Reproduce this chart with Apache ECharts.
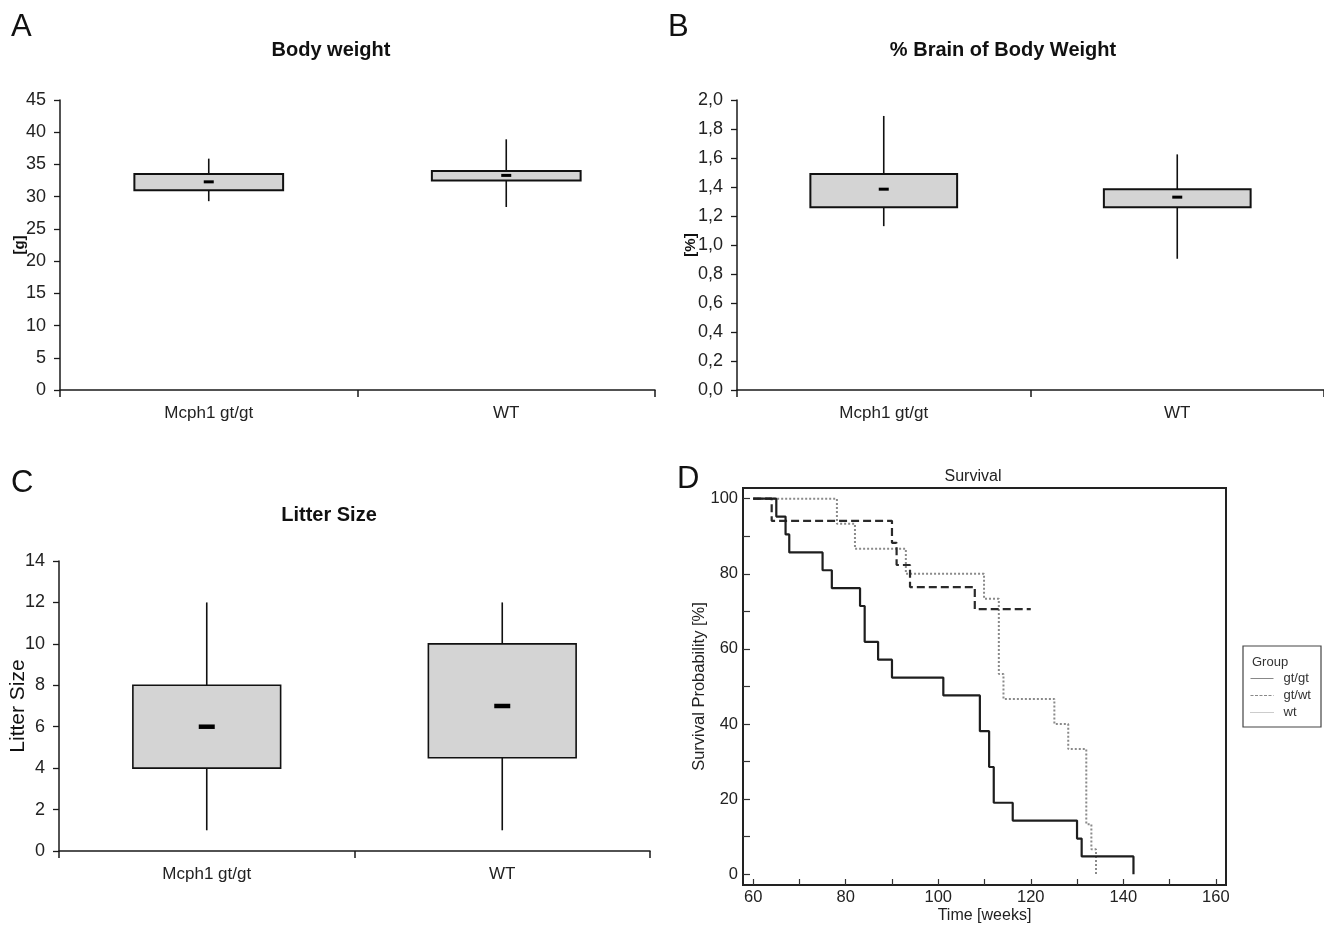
<!DOCTYPE html>
<html>
<head>
<meta charset="utf-8">
<script src="https://cdn.jsdelivr.net/npm/echarts@6/dist/echarts.min.js"></script>
<style>
  html, body { margin: 0; padding: 0; background: #fff; }
  #chart { width: 1324px; height: 925px; }
</style>
</head>
<body>
<div id="chart"></div>
<script>
const FONT = '"Liberation Sans", Arial, sans-serif';

// box panels: [min, q1, median, q3, max] per group
const groups = ['Mcph1 gt/gt', 'WT'];
const weightStats = [[29.3, 31.0, 32.3, 33.5, 35.9], [28.4, 32.5, 33.3, 34.0, 38.9]];
const brainStats = [[1.13, 1.26, 1.385, 1.49, 1.89], [0.905, 1.26, 1.33, 1.385, 1.625]];
const litterStats = [[1, 4, 6, 8, 12], [1, 4.5, 7, 10, 12]];

// survival (Kaplan-Meier steps): time [weeks], survival [%]
const gtgtTimes = [60, 65.0, 67.0, 67.8, 75.0, 77.0, 83.1, 84.1, 87.0, 90.0, 101.1, 109.0, 111.0, 112.0, 116.1, 130.0, 131.0, 142.2];
const gtgtSurv = [100, 95.24, 90.48, 85.71, 80.95, 76.19, 71.43, 61.9, 57.14, 52.38, 47.62, 38.1, 28.57, 19.05, 14.29, 9.52, 4.76, 0];
const gtwtTimes = [60, 64.0, 90.0, 91.0, 93.9, 107.9, 120.0];
const gtwtSurv = [100, 94.12, 88.24, 82.35, 76.47, 70.59, 70.59];
const wtTimes = [60, 78.1, 82.0, 93.0, 109.9, 113.1, 114.1, 125.1, 128.1, 132.0, 133.1, 134.1];
const wtSurv = [100, 93.33, 86.67, 80, 73.33, 53.33, 46.67, 40, 33.33, 13.33, 6.67, 0];

const timeTicks = [60, 70, 80, 90, 100, 110, 120, 130, 140, 150, 160];
const timeLabels = [60, 80, 100, 120, 140, 160];
const survTicks = [0, 10, 20, 30, 40, 50, 60, 70, 80, 90, 100];
const survLabels = [0, 20, 40, 60, 80, 100];

const zip = (a, b) => a.map((v, i) => [v, b[i]]);
const boxData = stats => stats.map((s, i) => [i].concat(s));

function boxRenderer(dashW, dashH, lw) {
  return function (params, api) {
    const ci = api.value(0);
    const hi = api.coord([ci, api.value(5)]);
    const lo = api.coord([ci, api.value(1)]);
    const q3 = api.coord([ci, api.value(4)]);
    const q1 = api.coord([ci, api.value(2)]);
    const md = api.coord([ci, api.value(3)]);
    const bw = api.size([1, 0])[0] * 0.5;
    return {
      type: 'group',
      children: [
        { type: 'line', shape: { x1: hi[0], y1: hi[1], x2: lo[0], y2: lo[1] }, style: { stroke: '#111', lineWidth: 1.6 } },
        { type: 'rect', shape: { x: q3[0] - bw / 2, y: q3[1], width: bw, height: q1[1] - q3[1] }, style: { fill: '#d4d4d4', stroke: '#111', lineWidth: lw } },
        { type: 'rect', shape: { x: md[0] - dashW / 2, y: md[1] - dashH / 2, width: dashW, height: dashH }, style: { fill: '#000' } }
      ]
    };
  };
}

const axisLine = { lineStyle: { color: '#1a1a1a', width: 1.5 } };
const labelStyle = { fontSize: 18, color: '#222', fontFamily: FONT };
const survLabelStyle = { fontSize: 16.5, color: '#222', fontFamily: FONT };
const noLegendSymbol = { color: 'transparent', borderWidth: 0, opacity: 0 };

function catAxis(gi) {
  return {
    type: 'category', gridIndex: gi, data: groups, boundaryGap: true,
    axisLine: axisLine,
    axisTick: { show: true, length: 7, lineStyle: { color: '#1a1a1a', width: 1.5 } },
    axisLabel: Object.assign({ margin: 15 }, labelStyle, { fontSize: 17 }),
    splitLine: { show: false }
  };
}
function boxYAxis(gi, min, max, interval, extra) {
  return Object.assign({
    type: 'value', gridIndex: gi, min: min, max: max, interval: interval,
    axisLine: Object.assign({ show: true }, axisLine),
    axisTick: { show: true, length: 6, lineStyle: { color: '#1a1a1a', width: 1.3 } },
    axisLabel: Object.assign({ margin: 14 }, labelStyle),
    splitLine: { show: false },
    nameLocation: 'middle', nameRotate: 90, nameMoveOverlap: false
  }, extra);
}

const chart = echarts.init(document.getElementById('chart'));
const option = {
  animation: false,
  backgroundColor: '#fff',
  textStyle: { fontFamily: FONT },
  graphic: [
    { type: 'text', left: 11, top: 12, style: { text: 'A', fontSize: 31, fill: '#111', fontFamily: FONT } },
    { type: 'text', left: 668, top: 12, style: { text: 'B', fontSize: 31, fill: '#111', fontFamily: FONT } },
    { type: 'text', left: 11, top: 468, style: { text: 'C', fontSize: 31, fill: '#111', fontFamily: FONT } },
    { type: 'text', left: 677, top: 464, style: { text: 'D', fontSize: 31, fill: '#111', fontFamily: FONT } },
    { type: 'text', x: 331, y: 50, style: { text: 'Body weight', fontSize: 20, fontWeight: 'bold', fill: '#111', align: 'center', verticalAlign: 'middle', fontFamily: FONT } },
    { type: 'text', x: 1003, y: 50, style: { text: '% Brain of Body Weight', fontSize: 20, fontWeight: 'bold', fill: '#111', align: 'center', verticalAlign: 'middle', fontFamily: FONT } },
    { type: 'text', x: 329, y: 515, style: { text: 'Litter Size', fontSize: 20, fontWeight: 'bold', fill: '#111', align: 'center', verticalAlign: 'middle', fontFamily: FONT } },
    { type: 'text', x: 973, y: 477, style: { text: 'Survival', fontSize: 16, fill: '#222', align: 'center', verticalAlign: 'middle', fontFamily: FONT } },
    { type: 'rect', shape: { x: 1243, y: 646, width: 78, height: 81 }, style: { fill: 'none', stroke: '#444', lineWidth: 1.2 } },
    { type: 'text', x: 1252, y: 662, style: { text: 'Group', fontSize: 13, fill: '#333', verticalAlign: 'middle', fontFamily: FONT } }
  ],
  legend: {
    orient: 'vertical', left: 1250, top: 672, padding: 0,
    itemWidth: 23, itemHeight: 12, itemGap: 4,
    textStyle: { fontSize: 13, color: '#333', fontFamily: FONT, padding: [0, 0, 0, 5] },
    data: [
      { name: 'gt/gt', lineStyle: { color: '#888', width: 1 }, itemStyle: noLegendSymbol },
      { name: 'gt/wt', lineStyle: { color: '#888', width: 1, type: [3, 1.5] }, itemStyle: noLegendSymbol },
      { name: 'wt', lineStyle: { color: '#999', width: 1, type: [1, 1] }, itemStyle: noLegendSymbol }
    ]
  },
  grid: [
    { left: 60, top: 100, width: 595, height: 290 },
    { left: 737, top: 100, width: 589, height: 290 },
    { left: 59, top: 561, width: 591, height: 290 },
    { left: 743, top: 488, width: 483, height: 397, show: true, borderColor: '#222', borderWidth: 2 }
  ],
  xAxis: [
    catAxis(0), catAxis(1), catAxis(2),
    {
      type: 'value', gridIndex: 3, min: 57.8, max: 162.2,
      axisLine: { onZero: false, lineStyle: { color: '#222', width: 2 } },
      axisTick: { show: true, inside: true, length: 6, customValues: timeTicks, lineStyle: { color: '#333', width: 1.2 } },
      axisLabel: Object.assign({ margin: 4, customValues: timeLabels }, survLabelStyle),
      splitLine: { show: false },
      name: 'Time [weeks]', nameLocation: 'middle', nameGap: 23, nameMoveOverlap: false,
      nameTextStyle: { fontSize: 16, color: '#222', fontFamily: FONT }
    }
  ],
  yAxis: [
    boxYAxis(0, 0, 45, 5, { name: '[g]', nameGap: 33, nameTextStyle: { fontSize: 15, fontWeight: 'bold', color: '#111', fontFamily: FONT } }),
    boxYAxis(1, 0, 2, 0.2, {
      name: '[%]', nameGap: 39, nameTextStyle: { fontSize: 15, fontWeight: 'bold', color: '#111', fontFamily: FONT },
      axisLabel: Object.assign({ margin: 14, formatter: v => v.toFixed(1).replace('.', ',') }, labelStyle)
    }),
    boxYAxis(2, 0, 14, 2, { name: 'Litter Size', nameGap: 30, nameTextStyle: { fontSize: 21, color: '#111', fontFamily: FONT } }),
    {
      type: 'value', gridIndex: 3, min: -2.85, max: 102.85,
      axisLine: { show: true, onZero: false, lineStyle: { color: '#222', width: 2 } },
      axisTick: { show: true, inside: true, length: 7, customValues: survTicks, lineStyle: { color: '#333', width: 1.2 } },
      axisLabel: Object.assign({ margin: 5, customValues: survLabels }, survLabelStyle),
      splitLine: { show: false },
      name: 'Survival Probability [%]', nameLocation: 'middle', nameRotate: 90, nameGap: 35, nameMoveOverlap: false,
      nameTextStyle: { fontSize: 16.5, color: '#222', fontFamily: FONT }
    }
  ],
  series: [
    { type: 'custom', xAxisIndex: 0, yAxisIndex: 0, data: boxData(weightStats), encode: { x: 0, y: [1, 2, 3, 4, 5] }, renderItem: boxRenderer(10, 3, 2) },
    { type: 'custom', xAxisIndex: 1, yAxisIndex: 1, data: boxData(brainStats), encode: { x: 0, y: [1, 2, 3, 4, 5] }, renderItem: boxRenderer(10, 3, 2) },
    { type: 'custom', xAxisIndex: 2, yAxisIndex: 2, data: boxData(litterStats), encode: { x: 0, y: [1, 2, 3, 4, 5] }, renderItem: boxRenderer(16, 4.5, 1.6) },
    {
      name: 'wt', type: 'line', xAxisIndex: 3, yAxisIndex: 3, step: 'end', symbol: 'none',
      data: zip(wtTimes, wtSurv), lineStyle: { color: '#8a8a8a', width: 2, type: [2, 2] }, itemStyle: { color: '#8a8a8a' }
    },
    {
      name: 'gt/wt', type: 'line', xAxisIndex: 3, yAxisIndex: 3, step: 'end', symbol: 'none',
      data: zip(gtwtTimes, gtwtSurv), lineStyle: { color: '#2a2a2a', width: 2.2, type: [8, 4] }, itemStyle: { color: '#2a2a2a' }
    },
    {
      name: 'gt/gt', type: 'line', xAxisIndex: 3, yAxisIndex: 3, step: 'end', symbol: 'none',
      data: zip(gtgtTimes, gtgtSurv), lineStyle: { color: '#1e1e1e', width: 2.2 }, itemStyle: { color: '#1e1e1e' }
    }
  ]
};
chart.setOption(option);
</script>
</body>
</html>
